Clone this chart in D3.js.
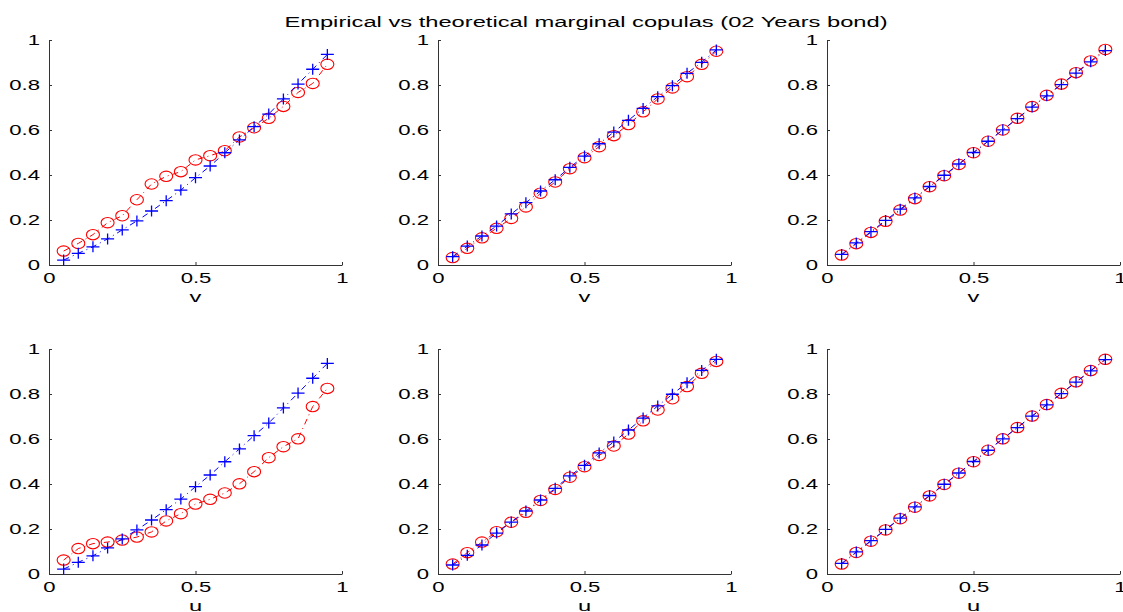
<!DOCTYPE html>
<html>
<head>
<meta charset="utf-8">
<script src="https://cdn.jsdelivr.net/npm/d3@7"></script>
<style>
  body { margin: 0; background: #fff; }
  svg { display: block; font-family: "Liberation Sans", Arial, Helvetica, sans-serif; }
</style>
</head>
<body>
<div id="chart"></div>
<script>
// grid points shared by every panel
var uGrid = [0.05, 0.10, 0.15, 0.20, 0.25, 0.30, 0.35, 0.40, 0.45, 0.50,
             0.55, 0.60, 0.65, 0.70, 0.75, 0.80, 0.85, 0.90, 0.95];

// empirical marginal copula (red circles), one array per panel
var empTopLeft = [0.062, 0.096, 0.135, 0.188, 0.219, 0.290, 0.360, 0.394, 0.415, 0.467,
                  0.486, 0.508, 0.569, 0.610, 0.652, 0.705, 0.767, 0.807, 0.892];
var empTopMid = [0.033, 0.074, 0.121, 0.163, 0.207, 0.258, 0.319, 0.369, 0.428, 0.477,
                 0.526, 0.575, 0.624, 0.681, 0.738, 0.787, 0.837, 0.892, 0.950];
var empTopRight = [0.044, 0.095, 0.145, 0.194, 0.244, 0.295, 0.348, 0.397, 0.447, 0.499,
                   0.550, 0.600, 0.652, 0.704, 0.754, 0.804, 0.855, 0.907, 0.958];
var empBotLeft = [0.062, 0.113, 0.135, 0.142, 0.151, 0.164, 0.187, 0.236, 0.268, 0.311,
                  0.332, 0.360, 0.401, 0.455, 0.517, 0.566, 0.601, 0.744, 0.825];
var empBotMid = [0.044, 0.095, 0.142, 0.188, 0.230, 0.274, 0.327, 0.376, 0.430, 0.477,
                 0.527, 0.569, 0.622, 0.681, 0.729, 0.779, 0.833, 0.892, 0.945];
var empBotRight = [0.044, 0.096, 0.146, 0.196, 0.246, 0.297, 0.347, 0.398, 0.448, 0.499,
                   0.550, 0.601, 0.651, 0.702, 0.753, 0.803, 0.854, 0.904, 0.954];

// theoretical marginal copula (blue pluses)
var theoLeft = [0.022, 0.052, 0.081, 0.116, 0.156, 0.196, 0.240, 0.286, 0.333, 0.388,
                0.440, 0.499, 0.556, 0.615, 0.671, 0.738, 0.804, 0.870, 0.936];
var theoTopMid = [0.037, 0.084, 0.129, 0.173, 0.227, 0.277, 0.329, 0.379, 0.434, 0.484,
                  0.539, 0.591, 0.643, 0.696, 0.748, 0.797, 0.852, 0.901, 0.956];
var theoBotMid = [0.040, 0.083, 0.129, 0.182, 0.231, 0.280, 0.329, 0.381, 0.436, 0.483,
                  0.538, 0.587, 0.640, 0.693, 0.747, 0.799, 0.850, 0.905, 0.954];
var theoRight = [0.047, 0.098, 0.148, 0.198, 0.248, 0.298, 0.349, 0.399, 0.449, 0.500,
                 0.550, 0.601, 0.651, 0.702, 0.752, 0.802, 0.853, 0.903, 0.953];

var xTicks = [0, 0.5, 1];
var yTicks = [0, 0.2, 0.4, 0.6, 0.8, 1];
var xLabels = ["v", "v", "v", "u", "u", "u"];
var titleText = "Empirical vs theoretical marginal copulas (02 Years bond)";

var panels = [
  { emp: empTopLeft,  theo: theoLeft },
  { emp: empTopMid,   theo: theoTopMid },
  { emp: empTopRight, theo: theoRight },
  { emp: empBotLeft,  theo: theoLeft },
  { emp: empBotMid,   theo: theoBotMid },
  { emp: empBotRight, theo: theoRight }
];

var W = 1123, H = 612;
var colX = [49, 438, 827], rowY = [40, 349];
var pw = 293, ph = 225;
var sx = 1.58; // text is drawn wide

var svg = d3.select("#chart").append("svg")
    .attr("width", W)
    .attr("height", H);

svg.append("text")
    .text(titleText)
    .attr("transform", "translate(586,27) scale(" + sx + ",1)")
    .attr("text-anchor", "middle")
    .attr("font-size", "15px")
    .attr("fill", "#000");

var fmt = function(d) { return d === 0 || d === 1 ? String(d) : d3.format(".1f")(d); };

panels.forEach(function(p, i) {
  var ox = colX[i % 3], oy = rowY[Math.floor(i / 3)];
  var g = svg.append("g").attr("transform", "translate(" + ox + "," + oy + ")");

  var x = d3.scaleLinear().domain([0, 1]).range([0, pw]);
  var y = d3.scaleLinear().domain([0, 1]).range([ph, 0]);

  var xAxis = g.append("g")
      .attr("transform", "translate(0," + ph + ")")
      .call(d3.axisBottom(x).tickValues(xTicks).tickFormat(fmt).tickSizeInner(-3).tickSizeOuter(0).tickPadding(8));
  var yAxis = g.append("g")
      .call(d3.axisLeft(y).tickValues(yTicks).tickFormat(fmt).tickSizeInner(-3).tickSizeOuter(0));

  [xAxis, yAxis].forEach(function(ax) {
    ax.select(".domain").attr("stroke", "#333");
    ax.selectAll(".tick line").attr("stroke", "#333");
    ax.selectAll("text").attr("font-size", "14px").attr("fill", "#000").attr("font-family", null);
  });
  xAxis.selectAll("text").attr("y", 8).attr("dy", "0.71em")
      .attr("transform", "scale(" + sx + ",1)");
  yAxis.selectAll("text").attr("x", -9 / sx)
      .attr("transform", "scale(" + sx + ",1)");

  g.append("text")
      .text(xLabels[i])
      .attr("transform", "translate(" + pw / 2 + "," + (ph + 37) + ") scale(" + sx + ",1)")
      .attr("text-anchor", "middle")
      .attr("font-size", "15px")
      .attr("fill", "#000");

  var empPts = uGrid.map(function(u, k) { return [u, p.emp[k]]; });
  var theoPts = uGrid.map(function(u, k) { return [u, p.theo[k]]; });
  var line = d3.line().x(function(d) { return x(d[0]); }).y(function(d) { return y(d[1]); });

  // empirical: red dash-dot with circles
  g.append("path")
      .datum(empPts)
      .attr("d", line)
      .attr("fill", "none")
      .attr("stroke", "#ff0000")
      .attr("stroke-width", 1)
      .attr("stroke-dasharray", "6,4,1,4");
  g.selectAll(".emp")
      .data(empPts)
      .enter().append("ellipse")
      .attr("class", "emp")
      .attr("cx", function(d) { return x(d[0]); })
      .attr("cy", function(d) { return y(d[1]); })
      .attr("rx", 6.5)
      .attr("ry", 5.2)
      .attr("fill", "none")
      .attr("stroke", "#ff0000")
      .attr("stroke-width", 1.1);

  // theoretical: blue dash-dot with pluses
  g.append("path")
      .datum(theoPts)
      .attr("d", line)
      .attr("fill", "none")
      .attr("stroke", "#0000ff")
      .attr("stroke-width", 1)
      .attr("stroke-dasharray", "6,4,1,4");
  g.selectAll(".theo")
      .data(theoPts)
      .enter().append("path")
      .attr("class", "theo")
      .attr("d", function(d) {
        var cx = x(d[0]), cy = y(d[1]);
        return "M" + (cx - 6.5) + "," + cy + "H" + (cx + 6.5) +
               "M" + cx + "," + (cy - 5.5) + "V" + (cy + 5.5);
      })
      .attr("fill", "none")
      .attr("stroke", "#0000ff")
      .attr("stroke-width", 1.3);
});
</script>
</body>
</html>
